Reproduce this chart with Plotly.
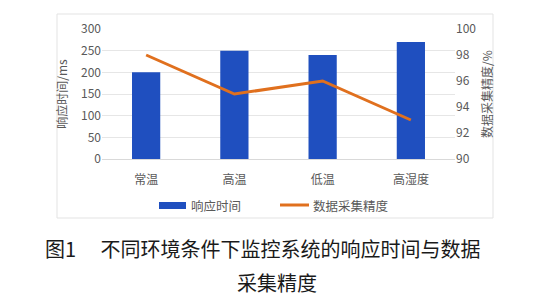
import plotly.graph_objects as go

categories = ["常温", "高温", "低温", "高湿度"]
response_time = [200, 250, 240, 270]
accuracy = [98, 95, 96, 93]
left_ticks = [0, 50, 100, 150, 200, 250, 300]
right_ticks = [90, 92, 94, 96, 98, 100]

FONT = "Noto Sans CJK SC"
GREY = "#595959"
BLUE = "#1F4FBF"
ORANGE = "#E0701E"

# plot area in pixels: x 102..455, y 29..159
PX_L, PX_R, PX_T, PX_B = 102, 455, 29, 159


def px(x):
    return (x - PX_L) / (PX_R - PX_L)


def py(y):
    return (PX_B - y) / (PX_B - PX_T)


fig = go.Figure()
fig.add_trace(go.Bar(x=categories, y=response_time, name="响应时间",
                     marker=dict(color=BLUE, line=dict(width=0)), yaxis="y"))
fig.add_trace(go.Scatter(x=categories, y=accuracy, name="数据采集精度", mode="lines",
                         line=dict(color=ORANGE, width=3), yaxis="y2"))

fig.update_layout(
    width=552, height=298,
    margin=dict(l=PX_L, r=552 - PX_R, t=PX_T, b=298 - PX_B),
    paper_bgcolor="white", plot_bgcolor="white",
    font=dict(family=FONT, size=12, color=GREY),
    bargap=0.68,
    showlegend=False,
    xaxis=dict(showline=True, linecolor="#D9D9D9", linewidth=1, ticks="",
               tickfont=dict(size=12, color=GREY), showgrid=False, ticklabelstandoff=10),
    yaxis=dict(range=[0, 300], tickvals=left_ticks, showgrid=True, gridcolor="#E6E6E6",
               zeroline=False, ticks="", tickfont=dict(size=12, color=GREY),
               title=dict(text="响应时间/ms", font=dict(size=12, color=GREY), standoff=10)),
    yaxis2=dict(range=[90, 100], tickvals=right_ticks, overlaying="y", side="right",
                showgrid=False, zeroline=False, ticks="", tickfont=dict(size=12, color=GREY),
                title=dict(text="数据采集精度/%", font=dict(size=12, color=GREY), standoff=8)),
    shapes=[
        dict(type="rect", xref="paper", yref="paper",
             x0=px(57), x1=px(493), y0=py(218), y1=py(14),
             line=dict(color="#E3E3E3", width=1), layer="below"),
        # legend markers
        dict(type="rect", xref="paper", yref="paper",
             x0=px(159), x1=px(186), y0=py(209), y1=py(202),
             fillcolor=BLUE, line=dict(width=0)),
        dict(type="line", xref="paper", yref="paper",
             x0=px(280), x1=px(309), y0=py(205), y1=py(205),
             line=dict(color=ORANGE, width=3)),
    ],
    annotations=[
        dict(text="响应时间", xref="paper", yref="paper", x=px(189), y=py(205),
             showarrow=False, xanchor="left", yanchor="middle",
             font=dict(family=FONT, size=12.5, color=GREY)),
        dict(text="数据采集精度", xref="paper", yref="paper", x=px(311), y=py(205),
             showarrow=False, xanchor="left", yanchor="middle",
             font=dict(family=FONT, size=12.5, color=GREY)),
        dict(text="图1　 不同环境条件下监控系统的响应时间与数据", xref="paper", yref="paper",
             x=px(263), y=py(248), showarrow=False,
             font=dict(family=FONT, size=20, color="#1a1a1a"),
             xanchor="center", yanchor="middle"),
        dict(text="采集精度", xref="paper", yref="paper",
             x=px(277), y=py(282), showarrow=False,
             font=dict(family=FONT, size=20, color="#1a1a1a"),
             xanchor="center", yanchor="middle"),
    ],
)

fig.write_html("out.html")
